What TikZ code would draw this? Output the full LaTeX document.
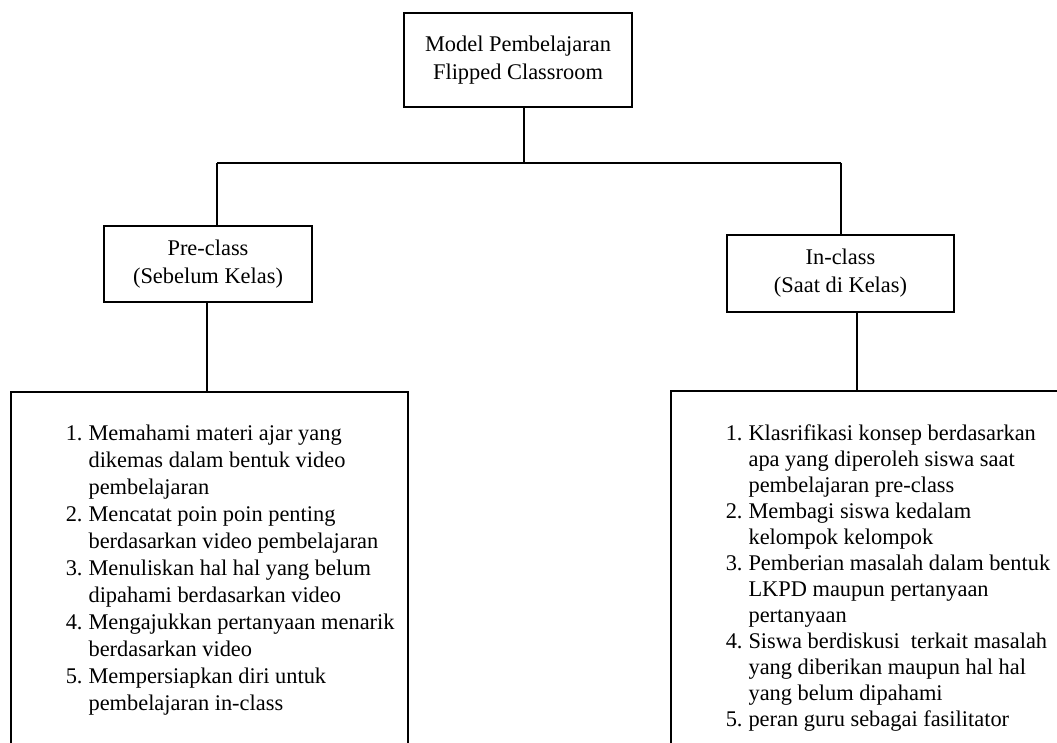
\documentclass[tikz,border=0pt]{standalone}
\usepackage{fontspec}
\setmainfont{Liberation Serif}
\begin{document}
\begin{tikzpicture}[x=1pt,y=-1pt,line width=1.5pt,
  box/.style={draw,align=center,inner sep=0pt,font=\fontsize{22.4}{28}\selectfont},
  listbox/.style={draw,anchor=north west,inner sep=0pt},
  listtext/.style={anchor=north west,inner sep=0pt,align=left}]
\useasboundingbox (0,0) rectangle (1057,743);
\begin{scope}
\clip (0,0) rectangle (1057,743);
\node[box,minimum width=228pt,minimum height=94pt] (top) at (518,60) {Model Pembelajaran\\Flipped Classroom};
\node[box,minimum width=208pt,minimum height=76pt] (pre) at (208,264) {Pre-class\\(Sebelum Kelas)};
\node[box,minimum width=227pt,minimum height=77pt] (in) at (840.5,273.5) {In-class\\(Saat di Kelas)};
\node[listbox,minimum width=397pt,minimum height=400pt] (lbox) at (10,391) {};
\node[listbox,minimum width=420pt,minimum height=400pt] (rbox) at (670,390) {};
\node[listtext,font=\fontsize{22.4}{27}\selectfont] (ltext) at (65,421) {%
\begin{tabular}{@{}r@{\hspace{6pt}}l@{}}
1. & Memahami materi ajar yang\\
   & dikemas dalam bentuk video\\
   & pembelajaran\\
2. & Mencatat poin poin penting\\
   & berdasarkan video pembelajaran\\
3. & Menuliskan hal hal yang belum\\
   & dipahami berdasarkan video\\
4. & Mengajukkan pertanyaan menarik\\
   & berdasarkan video\\
5. & Mempersiapkan diri untuk\\
   & pembelajaran in-class
\end{tabular}};
\node[listtext,font=\fontsize{22.4}{26}\selectfont] (rtext) at (725,422) {%
\begin{tabular}{@{}r@{\hspace{6pt}}l@{}}
1. & Klasrifikasi konsep berdasarkan\\
   & apa yang diperoleh siswa saat\\
   & pembelajaran pre-class\\
2. & Membagi siswa kedalam\\
   & kelompok kelompok\\
3. & Pemberian masalah dalam bentuk\\
   & LKPD maupun pertanyaan\\
   & pertanyaan\\
4. & Siswa berdiskusi\ \ terkait masalah\\
   & yang diberikan maupun hal hal\\
   & yang belum dipahami\\
5. & peran guru sebagai fasilitator
\end{tabular}};
\coordinate (j) at (524,163);
\coordinate (jl) at (217,163);
\coordinate (jr) at (841,163);
\coordinate (pl) at (207,302);
\coordinate (pr) at (857,312);
\draw (top.south -| j) -- (j);
\draw (jl) -- (jr);
\draw (jl) -- (jl |- pre.north);
\draw (jr) -- (jr |- in.north);
\draw (pre.south -| pl) -- (lbox.north -| pl);
\draw (in.south -| pr) -- (rbox.north -| pr);
\end{scope}
\end{tikzpicture}
\end{document}
